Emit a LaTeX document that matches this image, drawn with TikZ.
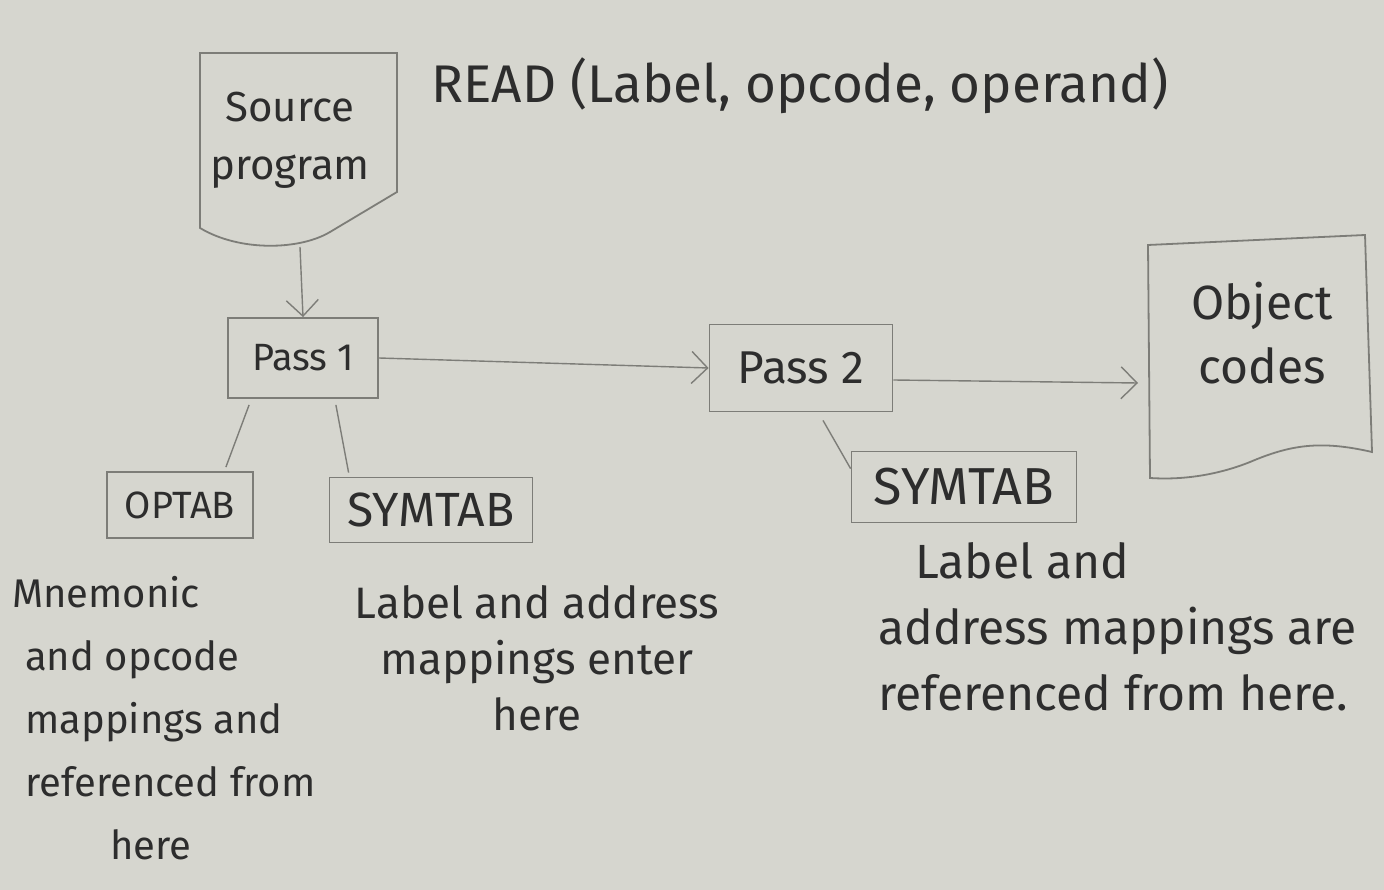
\documentclass[tikz,border=0pt]{standalone}
\usepackage{fontspec}
\setmainfont{Fira Sans}
\usetikzlibrary{arrows.meta}
\definecolor{paper}{RGB}{214,214,207}
\definecolor{pencil}{RGB}{125,125,120}
\definecolor{ink}{RGB}{45,45,45}
\tikzset{
  box/.style={draw=pencil, line width=1.8pt, inner sep=0pt, text=ink},
  link/.style={draw=pencil, line width=1.4pt},
  arr/.style={link, -{Straight Barb[length=16pt,width=32pt,line width=1.4pt]}},
  note/.style={text=ink, inner sep=0pt}
}
\begin{document}
\begin{tikzpicture}[x=1pt,y=-1pt]
% Paper
\fill[paper] (0,0) rectangle (1384,890);
\useasboundingbox (0,0) rectangle (1384,890);
% Source program
\draw[link, line width=1.8pt] (200,53) -- (397,53) -- (397,192) -- (330,232)
  .. controls (300,250) and (240,252) .. (200,228) -- cycle;
\node[note, align=center, font=\fontsize{42}{58}\selectfont] (src) at (290,140) {Source\\program};
\coordinate (srcbot) at (300,247);
% Title
\node[note, font=\fontsize{53}{56}\selectfont] (read) at (800,86) {READ (Label, opcode, operand)};
% Passes
\node[box, minimum width=150pt, minimum height=80pt, font=\fontsize{38}{40}\selectfont] (pass1) at (303,358) {Pass 1};
\node[box, minimum width=183pt, minimum height=87pt, font=\fontsize{46}{50}\selectfont] (pass2) at (801,368) {Pass 2};
% Tables
\node[box, minimum width=146pt, minimum height=66pt, font=\fontsize{38}{40}\selectfont] (optab) at (180,505) {OPTAB};
\node[box, minimum width=203pt, minimum height=65pt, font=\fontsize{48}{50}\selectfont] (symtab1) at (431,510) {SYMTAB};
\node[box, minimum width=225pt, minimum height=71pt, font=\fontsize{52}{54}\selectfont] (symtab2) at (964,487) {SYMTAB};
% Object codes
\draw[link, line width=1.8pt] (1148,245) -- (1365,235) -- (1372,452)
  .. controls (1320,440) and (1290,445) .. (1250,462)
  .. controls (1215,476) and (1180,480) .. (1150,478) -- cycle;
\node[note, align=center, font=\fontsize{48}{64}\selectfont] (obj) at (1262,333) {Object\\codes};
\coordinate (objin) at (1138,383);
% Arrows
\draw[arr] (srcbot) -- (pass1.north);
\draw[arr] (pass1.east) -- (pass2.west);
\draw[arr] ([yshift=-12pt]pass2.east) -- (objin);
% Links to tables
\draw[link] ([xshift=22pt,yshift=-6pt]pass1.south west) -- ([xshift=-28pt,yshift=4pt]optab.north east);
\draw[link] ([xshift=-43pt,yshift=-6pt]pass1.south east) -- ([xshift=20pt,yshift=4pt]symtab1.north west);
\draw[link] ([xshift=22pt,yshift=-8pt]pass2.south) -- ([yshift=-18pt]symtab2.north west);
% Notes
\node[note, align=left, anchor=north west, font=\fontsize{40}{63}\selectfont] (optabnote) at (12,576)
  {Mnemonic\\\hspace*{13pt}and opcode\\\hspace*{13pt}mappings and\\\hspace*{13pt}referenced from\\\hspace*{98pt}here};
\node[note, align=center, font=\fontsize{44}{56}\selectfont] (symnote1) at (537,658)
  {Label and address\\mappings enter\\here};
\node[note, align=left, anchor=north west, font=\fontsize{48}{66}\selectfont] (symnote2) at (878,542)
  {\hspace*{37pt}Label and\\address mappings are\\referenced from here.};
\end{tikzpicture}
\end{document}
